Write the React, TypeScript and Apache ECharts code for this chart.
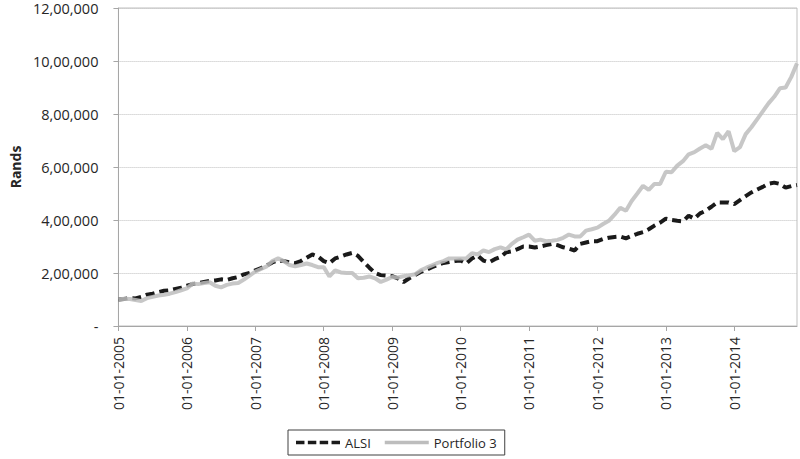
import React, { useEffect, useRef } from "react";
import * as echarts from "echarts";

const years = [2005, 2006, 2007, 2008, 2009, 2010, 2011, 2012, 2013, 2014];
const months = ["01", "02", "03", "04", "05", "06", "07", "08", "09", "10", "11", "12"];
const categories: string[] = [];
years.forEach((y) => months.forEach((m) => categories.push(`01-${m}-${y}`)));

// values in lakhs (x 1,00,000 Rands)
const alsiLakhs = [
  1.00, 1.02, 1.06, 1.04, 1.10, 1.18, 1.22, 1.28, 1.33, 1.35, 1.40, 1.45,
  1.52, 1.58, 1.62, 1.66, 1.70, 1.72, 1.76, 1.74, 1.80, 1.85, 1.95, 2.00,
  2.10, 2.18, 2.28, 2.40, 2.47, 2.45, 2.40, 2.37, 2.45, 2.58, 2.70, 2.62,
  2.45, 2.37, 2.55, 2.62, 2.70, 2.76, 2.65, 2.42, 2.20, 2.00, 1.92, 1.90,
  1.88, 1.80, 1.66, 1.80, 1.92, 2.04, 2.12, 2.22, 2.30, 2.38, 2.41, 2.45,
  2.47, 2.36, 2.55, 2.66, 2.47, 2.40, 2.52, 2.60, 2.78, 2.82, 2.90, 3.00,
  3.00, 2.96, 3.00, 3.05, 3.10, 3.05, 2.97, 2.92, 2.85, 3.10, 3.15, 3.20,
  3.20, 3.28, 3.33, 3.36, 3.38, 3.31, 3.40, 3.48, 3.54, 3.65, 3.79, 3.90,
  4.05, 4.00, 3.97, 3.95, 4.16, 4.05, 4.25, 4.35, 4.50, 4.66, 4.66, 4.66,
  4.60, 4.75, 4.90, 5.04, 5.15, 5.25, 5.37, 5.41, 5.36, 5.22, 5.28, 5.32,
];

const portfolioLakhs = [
  1.00, 1.03, 1.02, 0.98, 0.94, 1.05, 1.10, 1.15, 1.18, 1.22, 1.28, 1.35,
  1.42, 1.60, 1.58, 1.62, 1.65, 1.52, 1.46, 1.55, 1.60, 1.62, 1.75, 1.90,
  2.05, 2.15, 2.25, 2.45, 2.55, 2.45, 2.30, 2.25, 2.30, 2.36, 2.30, 2.22,
  2.22, 1.87, 2.10, 2.02, 2.00, 2.00, 1.80, 1.82, 1.87, 1.80, 1.66, 1.75,
  1.85, 1.83, 1.88, 1.91, 1.95, 2.10, 2.20, 2.29, 2.38, 2.45, 2.55, 2.55,
  2.55, 2.55, 2.75, 2.70, 2.85, 2.79, 2.90, 2.97, 2.89, 3.10, 3.26, 3.35,
  3.45, 3.22, 3.26, 3.20, 3.22, 3.25, 3.33, 3.45, 3.38, 3.38, 3.60, 3.65,
  3.71, 3.85, 3.97, 4.20, 4.46, 4.35, 4.72, 5.00, 5.29, 5.14, 5.36, 5.36,
  5.82, 5.80, 6.05, 6.22, 6.48, 6.56, 6.70, 6.82, 6.69, 7.29, 7.05, 7.35,
  6.60, 6.75, 7.24, 7.50, 7.80, 8.10, 8.40, 8.65, 8.97, 9.00, 9.40, 9.91,
];

const alsi = alsiLakhs.map((v) => Math.round(v * 100000));
const portfolio = portfolioLakhs.map((v) => Math.round(v * 100000));

function indianFormat(v: number): string {
  if (v === 0) return "-";
  const s = String(Math.round(v));
  if (s.length <= 3) return s;
  const last3 = s.slice(-3);
  let rest = s.slice(0, -3);
  const parts: string[] = [];
  while (rest.length > 2) {
    parts.unshift(rest.slice(-2));
    rest = rest.slice(0, -2);
  }
  if (rest.length) parts.unshift(rest);
  return parts.join(",") + "," + last3;
}

const FONT = "'Open Sans', 'Liberation Sans', sans-serif";
const DASH_ICON = "path://M0,0h10v4h-10z M14,0h10v4h-10z M28,0h10v4h-10z M42,0h10v4h-10z";
const LINE_ICON = "path://M0,0h52v4h-52z";

export default function App() {
  const ref = useRef<HTMLDivElement>(null);
  useEffect(() => {
    document.body.style.margin = "0";
    const chart = echarts.init(ref.current!, null, { renderer: "svg" });
    chart.setOption({
      animation: false,
      backgroundColor: "#ffffff",
      grid: {
        left: 113,
        right: 3,
        top: 8,
        bottom: 133,
        show: true,
        borderColor: "#bfbfbf",
        borderWidth: 1,
      },
      legend: {
        left: 288,
        top: 430,
        itemWidth: 44,
        itemHeight: 4,
        itemGap: 14,
        padding: [6, 8, 6, 8],
        borderColor: "#404040",
        borderWidth: 1,
        textStyle: { fontFamily: FONT, fontSize: 13, color: "#262626" },
        data: [
          { name: "ALSI", icon: DASH_ICON },
          { name: "Portfolio 3", icon: LINE_ICON },
        ],
      },
      xAxis: {
        type: "category",
        data: categories,
        boundaryGap: false,
        axisLine: { lineStyle: { color: "#a6a6a6", width: 1 } },
        axisTick: {
          show: true,
          length: 5,
          interval: (i: number) => i % 12 === 0,
          lineStyle: { color: "#a6a6a6" },
        },
        axisLabel: {
          rotate: 90,
          margin: 11,
          interval: (i: number) => i % 12 === 0,
          formatter: (v: string) => (v.startsWith("01-01") ? v : ""),
          fontFamily: FONT,
          fontSize: 14,
          color: "#262626",
        },
        splitLine: { show: false },
      },
      yAxis: {
        type: "value",
        min: 0,
        max: 1200000,
        interval: 200000,
        name: "Rands",
        nameLocation: "middle",
        nameGap: 96,
        nameTextStyle: { fontFamily: FONT, fontSize: 14, fontWeight: "bold", color: "#262626" },
        axisLine: { show: true, lineStyle: { color: "#a6a6a6", width: 1 } },
        axisTick: { show: true, length: 5, lineStyle: { color: "#a6a6a6" } },
        axisLabel: {
          formatter: (v: number) => indianFormat(v),
          margin: 20,
          fontFamily: FONT,
          fontSize: 14.5,
          color: "#262626",
        },
        splitLine: { show: true, lineStyle: { color: "#bfbfbf", type: "dotted", width: 1 } },
      },
      series: [
        {
          name: "ALSI",
          type: "line",
          data: alsi,
          showSymbol: false,
          symbol: "none",
          lineStyle: { color: "#1a1a1a", width: 4, type: [9, 5] },
          itemStyle: { color: "#1a1a1a" },
          z: 2,
        },
        {
          name: "Portfolio 3",
          type: "line",
          data: portfolio,
          showSymbol: false,
          symbol: "none",
          lineStyle: { color: "#bdbdbd", width: 4, opacity: 0.85 },
          itemStyle: { color: "#bdbdbd" },
          z: 3,
        },
      ],
    });
    return () => chart.dispose();
  }, []);
  return <div ref={ref} style={{ width: 800, height: 459, position: "absolute", left: 0, top: 0 }} />;
}
